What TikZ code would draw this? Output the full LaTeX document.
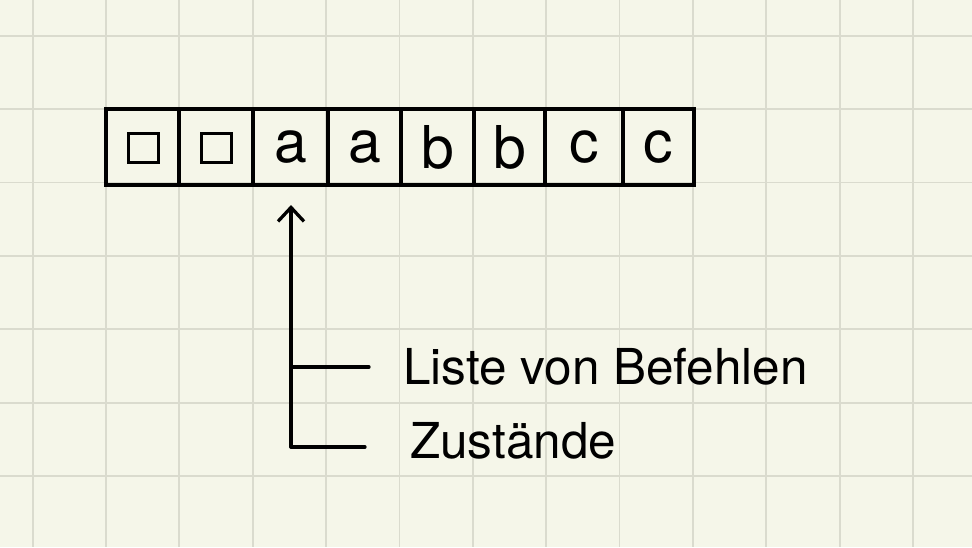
\documentclass[tikz,border=0pt]{standalone}
\usepackage{fontspec}
\setmainfont{TeX Gyre Heros}
\usetikzlibrary{arrows.meta}
\definecolor{paper}{HTML}{F5F6E9}
\definecolor{gridc}{HTML}{DADBCE}
\tikzset{
  cell/.style={draw=black, line width=3.3pt, minimum height=76pt, inner sep=0pt, anchor=center, font=\fontsize{59}{59}\selectfont},
  blanksym/.style={draw=black, line width=3.3pt, minimum width=30pt, minimum height=29pt, inner sep=0pt},
  lbl/.style={inner sep=0pt, anchor=base west, font=\fontsize{49.5}{49.5}\selectfont},
  conn/.style={line width=3.3pt, line cap=round, line join=round},
  gridline/.style={gridc, line width=1.8pt}
}
\begin{document}
\begin{tikzpicture}[x=1pt, y=-1pt]
  \fill[paper] (0,0) rectangle (972,547);
  \useasboundingbox (0,0) rectangle (972,547);
  % grid
  \foreach \k in {0,...,12} {
    \draw[gridline] ({32.6+73.37*\k},0) -- ({32.6+73.37*\k},547);
  }
  \foreach \k in {0,...,6} {
    \draw[gridline] (0,{35.7+73.4*\k}) -- (972,{35.7+73.4*\k});
  }
  % tape cells
  \node[cell, minimum width=73pt] (c1) at (142.5,147) {};
  \node[cell, minimum width=74pt] (c2) at (216,147) {};
  \node[cell, minimum width=75pt] (c3) at (290.5,147) {a};
  \node[cell, minimum width=73pt] (c4) at (364.5,147) {a};
  \node[cell, minimum width=73pt] (c5) at (437.5,147) {b};
  \node[cell, minimum width=71pt] (c6) at (509.5,147) {b};
  \node[cell, minimum width=78pt] (c7) at (584,147) {c};
  \node[cell, minimum width=71pt] (c8) at (658.5,147) {c};
  % blank symbols
  \node[blanksym] (s1) at (143.7,148.3) {};
  \node[blanksym] (s2) at (216.3,148.3) {};
  % labels
  \node[lbl] (l1) at (403,384) {Liste von Befehlen};
  \node[lbl] (l2) at (410,458) {Zustände};
  % connector coordinates
  \coordinate (tip) at (291,205);
  \coordinate (j1) at (291,367);
  \coordinate (e1) at (369,367);
  \coordinate (corner) at (291,447);
  \coordinate (e2) at (365,447);
  \draw[conn, -{Straight Barb[length=14pt, width=26pt, line width=3.3pt]}] (corner) -- (tip);
  \draw[conn] (j1) -- (e1);
  \draw[conn] (corner) -- (e2);
\end{tikzpicture}
\end{document}
